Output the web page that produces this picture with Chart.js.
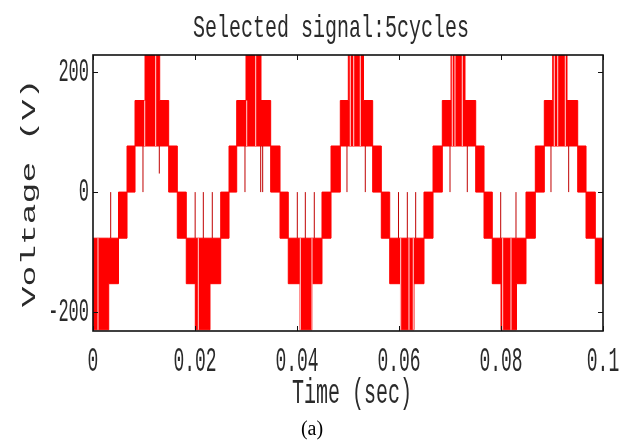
<!DOCTYPE html>
<html>
<head>
<meta charset="utf-8">
<script src="https://cdn.jsdelivr.net/npm/chart.js@4.4.1/dist/chart.umd.min.js"></script>
<style>
  html, body { margin: 0; padding: 0; background: #fff; }
</style>
</head>
<body>
<canvas id="sigChart" width="626" height="441"></canvas>
<script>
// switching bands: each segment runs from edgeTimes[i] to edgeTimes[i+1]
// and the output hops between bandLow[i] and bandHigh[i] (V)
const edgeTimes = [0, 0.00308, 0.00500, 0.00667, 0.00824, 0.01020, 0.01308, 0.01484, 0.01653, 0.01829, 0.02006,
  0.02294, 0.02504, 0.02667, 0.02818, 0.03000, 0.03294, 0.03484, 0.03667, 0.03829, 0.04059,
  0.04294, 0.04490, 0.04667, 0.04849, 0.05006, 0.05304, 0.05484, 0.05653, 0.05818, 0.06029,
  0.06294, 0.06490, 0.06667, 0.06849, 0.07020, 0.07294, 0.07504, 0.07667, 0.07829, 0.08000,
  0.08304, 0.08490, 0.08673, 0.08849, 0.09014, 0.09294, 0.09504, 0.09667, 0.09849, 0.1];
const bandLow = [-230,
  -153, -77, 0, 77, 77, 77, 0, -77, -153, -230,
  -153, -77, 0, 77, 77, 77, 0, -77, -153, -230,
  -153, -77, 0, 77, 77, 77, 0, -77, -153, -230,
  -153, -77, 0, 77, 77, 77, 0, -77, -153, -230,
  -153, -77, 0, 77, 77, 77, 0, -77, -153];
const bandHigh = [-77,
  -77, 0, 77, 153, 230, 153, 77, 0, -77, -77,
  -77, 0, 77, 153, 230, 153, 77, 0, -77, -77,
  -77, 0, 77, 153, 230, 153, 77, 0, -77, -77,
  -77, 0, 77, 153, 230, 153, 77, 0, -77, -77,
  -77, 0, 77, 153, 230, 153, 77, 0, -77];

// lone narrow pulses outside the bands
const spikeTimes = [0.00347, 0.00980, 0.01300, 0.02003, 0.02163, 0.02339, 0.02980, 0.03288, 0.03327, 0.04006, 0.04163, 0.04339,
  0.04980, 0.05339, 0.05990, 0.06163, 0.06327, 0.07000, 0.07339, 0.07994, 0.08294, 0.08980, 0.09327];
const spikeLow = [-77, 0, 31, -77, -77, -77, 0, 0, 0, -77, -77, -77, 0, 0, -77, -77, -77, 0, 0, -77, -77, 0, 0];
const spikeHigh = [0, 77, 77, 0, 0, 0, 77, 77, 77, 0, 0, 0, 77, 77, 0, 0, 0, 77, 77, 0, 0, 77, 77];

// thin white slivers inside the filled bands
const gapTimes = [0.00098, 0.01014, 0.01229, 0.02065, 0.03014, 0.03190, 0.04065, 0.04294, 0.05045, 0.05112, 0.05241,
  0.06033, 0.06196, 0.06280, 0.07045, 0.07098, 0.07241, 0.08033, 0.08196, 0.09045, 0.09112, 0.09261];
const gapLow = [-230, 77, 77, -230, 77, 77, -230, -230, 77, 77, 77, -230, -230, -230, 77, 77, 77, -230, -230, 77, 77, 77];
const gapHigh = [-77, 153, 230, -77, 153, 230, -77, -77, 230, 230, 230, -77, -77, -77, 230, 230, 230, -77, -77, 230, 230, 230];

const xTicks = [0, 0.02, 0.04, 0.06, 0.08, 0.1];
const xTickLabels = ['0', '0.02', '0.04', '0.06', '0.08', '0.1'];
const yTicks = [-200, 0, 200];
const yTickLabels = ['-200', '0', '200'];

const MONO = '"Liberation Mono", "DejaVu Sans Mono", monospace';

// build stepped envelopes
function envelope(levels) {
  const pts = levels.map((v, i) => ({ x: edgeTimes[i], y: v }));
  pts.push({ x: edgeTimes[edgeTimes.length - 1], y: levels[levels.length - 1] });
  return pts;
}
function verticals(times, lo, hi) {
  const pts = [];
  times.forEach((t, i) => {
    pts.push({ x: t, y: lo[i] }, { x: t, y: hi[i] }, { x: t, y: null });
  });
  return pts;
}

// text drawn taller than wide, like the stretched matlab figure
function tallText(ctx, str, x, y, size, k, align, rotate) {
  ctx.save();
  ctx.translate(x, y);
  ctx.scale(1, k);
  if (rotate) ctx.rotate(-Math.PI / 2);
  ctx.font = size + 'px ' + MONO;
  ctx.textAlign = align;
  ctx.textBaseline = 'middle';
  ctx.fillStyle = '#2a2a2a';
  ctx.fillText(str, 0, 0);
  ctx.restore();
}

const frameText = {
  id: 'frameText',
  afterDatasetsDraw(chart) {
    const { ctx, chartArea: a, scales: { x, y } } = chart;
    ctx.save();
    ctx.strokeStyle = '#111';
    ctx.lineWidth = 1;
    ctx.beginPath();
    xTicks.forEach(v => {
      const px = Math.round(x.getPixelForValue(v)) + 0.5;
      ctx.moveTo(px, a.bottom); ctx.lineTo(px, a.bottom - 5);
      ctx.moveTo(px, a.top); ctx.lineTo(px, a.top + 5);
    });
    yTicks.forEach(v => {
      const py = Math.round(y.getPixelForValue(v)) + 0.5;
      ctx.moveTo(a.left, py); ctx.lineTo(a.left + 5, py);
      ctx.moveTo(a.right, py); ctx.lineTo(a.right - 5, py);
    });
    ctx.stroke();
    ctx.lineWidth = 1.6;
    ctx.strokeRect(a.left, a.top, a.right - a.left, a.bottom - a.top);

    xTicks.forEach((v, i) => {
      tallText(ctx, xTickLabels[i], x.getPixelForValue(v), a.bottom + 31, 18, 1.9, 'center');
    });
    yTicks.forEach((v, i) => {
      tallText(ctx, yTickLabels[i], a.left - 4, y.getPixelForValue(v), 17, 2.0, 'right');
    });
    tallText(ctx, 'Selected signal:5cycles', 331, 29, 20, 1.55, 'center');
    tallText(ctx, 'Time (sec)', 352, 394, 20, 1.75, 'center');
    tallText(ctx, 'Voltage (V)', 29, 193, 21, 1.65, 'center', true);

    ctx.font = '20px "Liberation Serif", "Times New Roman", serif';
    ctx.fillStyle = '#000';
    ctx.textAlign = 'center';
    ctx.textBaseline = 'alphabetic';
    ctx.fillText('(a)', 312, 435);
    ctx.restore();
  }
};

new Chart(document.getElementById('sigChart'), {
  type: 'line',
  data: {
    datasets: [
      { label: 'gaps', data: verticals(gapTimes, gapLow, gapHigh), borderColor: 'rgba(255,225,225,0.95)',
        borderWidth: 1, pointRadius: 0, spanGaps: false, fill: false, order: 0 },
      { label: 'spikes', data: verticals(spikeTimes, spikeLow, spikeHigh), borderColor: '#c00000',
        borderWidth: 1, pointRadius: 0, spanGaps: false, fill: false, order: 1 },
      { label: 'upper', data: envelope(bandHigh), stepped: true, borderColor: '#ff0000', borderWidth: 1,
        backgroundColor: '#ff0000', pointRadius: 0, fill: '+1', order: 2 },
      { label: 'lower', data: envelope(bandLow), stepped: true, borderColor: '#ff0000', borderWidth: 1,
        pointRadius: 0, fill: false, order: 3 }
    ]
  },
  options: {
    responsive: false,
    animation: false,
    events: [],
    layout: { padding: { left: 93, right: 23, top: 55, bottom: 110 } },
    plugins: { legend: { display: false }, tooltip: { enabled: false }, title: { display: false } },
    scales: {
      x: { type: 'linear', min: 0, max: 0.1, display: false },
      y: { type: 'linear', min: -232, max: 229, display: false }
    }
  },
  plugins: [frameText]
});
</script>
</body>
</html>
